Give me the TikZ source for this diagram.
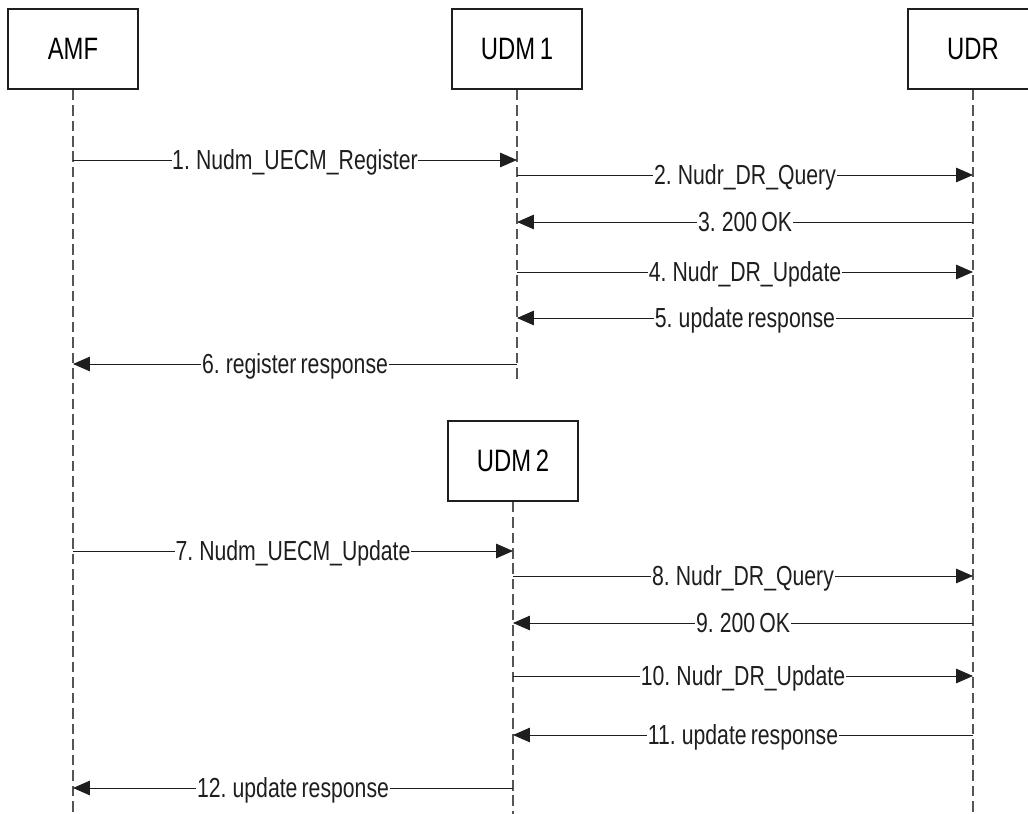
\documentclass[tikz,border=0pt]{standalone}
\usepackage{fontspec}
\setmainfont{Liberation Sans}[FakeStretch=0.77, WordSpace=0.7]
\usepackage{tikz}
\usetikzlibrary{positioning, arrows.meta}
\definecolor{lifegray}{RGB}{85,85,85}
\definecolor{inkgray}{RGB}{30,30,30}

\begin{document}
\begin{tikzpicture}[x=0.025cm, y=-0.025cm,
    >={Triangle[length=0.42cm, width=0.36cm]},
    entity/.style={draw=inkgray, line width=0.8pt, minimum width=3.25cm, minimum height=2cm,
        font=\fontsize{22}{25}\selectfont},
    life/.style={lifegray, line width=0.9pt, dash pattern=on 7.5pt off 3.5pt},
    msg/.style={->, inkgray, line width=0.7pt},
    lbl/.style={fill=white, inner sep=0.5pt, anchor=base, yshift=-7pt,
        font=\fontsize{19.6}{23}\selectfont}]
\useasboundingbox (0,0) rectangle (1028,814);

% entities
\node[entity] (amf)  at (73,49)  {AMF};
\node[entity] (udm1) at (517,49) {UDM 1};
\node[entity] (udr)  at (973,49) {UDR};
\node[entity] (udm2) at (513,461) {UDM 2};

% lifelines
\coordinate (amfend)  at (73,814);
\coordinate (udm1end) at (517,379);
\coordinate (udrend)  at (973,814);
\coordinate (udm2end) at (513,814);
\foreach \ent in {amf, udm1, udr, udm2}
    \draw[life] (\ent.south) -- (\ent end);

% messages
\foreach \src/\dst/\yy/\txt in {
    amf/udm1/160/{1. Nudm\_UECM\_Register},
    udm1/udr/175/{2. Nudr\_DR\_Query},
    udr/udm1/222/{3. 200 OK},
    udm1/udr/272/{4. Nudr\_DR\_Update},
    udr/udm1/318/{5. update response},
    udm1/amf/364/{6. register response},
    amf/udm2/551/{7. Nudm\_UECM\_Update},
    udm2/udr/576/{8. Nudr\_DR\_Query},
    udr/udm2/623/{9. 200 OK},
    udm2/udr/676/{10. Nudr\_DR\_Update},
    udr/udm2/735/{11. update response},
    udm2/amf/788/{12. update response}}
    \draw[msg] (\src |- 0,\yy) -- node[lbl] {\txt} (\dst |- 0,\yy);
\end{tikzpicture}
\end{document}
